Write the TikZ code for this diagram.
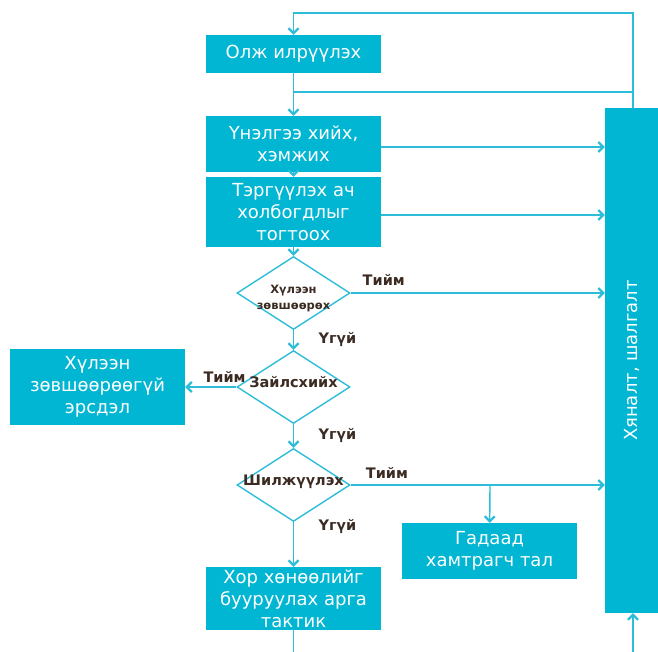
\documentclass[tikz,border=0pt]{standalone}
\usepackage{fontspec}
\setmainfont{DejaVu Sans}
\usetikzlibrary{arrows.meta}
\usetikzlibrary{shapes.geometric}

\definecolor{boxcyan}{HTML}{00B6D3}
\definecolor{linecyan}{HTML}{2EBDD8}
\definecolor{labbrown}{HTML}{3B2B22}

% zero sized text, so the diamonds keep their own size
\newcommand{\zerobox}[1]{\makebox[0pt]{\smash{#1}}}

\tikzset{
  stepbox/.style={rectangle, fill=boxcyan, text=white, minimum width=175pt,
    inner sep=0pt, align=center, font=\fontsize{18}{22}\selectfont},
  choice/.style={diamond, draw=linecyan, line width=1.4pt, minimum width=113pt,
    minimum height=73pt, inner sep=0pt, text=labbrown},
  answer/.style={text=labbrown, font=\fontsize{14.5}{16}\selectfont\bfseries},
  flow/.style={draw=linecyan, line width=1.4pt},
}

\begin{document}
\begin{tikzpicture}[x=1pt,y=-1pt,>={Straight Barb[length=5pt,width=10pt,line width=2.2pt]}]
      \useasboundingbox (0,0) rectangle (658,652);

      \node[stepbox, minimum height=38pt] (detect) at (293.5,54) {Олж илрүүлэх};
      \node[stepbox, minimum height=56pt] (assess) at (293.5,144) {Үнэлгээ хийх,\\хэмжих};
      \node[stepbox, minimum height=70pt] (priority) at (293.5,212) {Тэргүүлэх ач\\холбогдлыг\\тогтоох};
      \node[choice] (accept) at (293.5,293)
        {\zerobox{\fontsize{11.5}{16}\selectfont\bfseries\begin{tabular}[t]{@{}c@{}}Хүлээн\\зөвшөөрөх\end{tabular}}};
      \node[choice] (avoid) at (293.5,387)
        {\zerobox{\fontsize{14.5}{16}\selectfont\bfseries Зайлсхийх}};
      \node[choice] (transfer) at (293.5,485)
        {\zerobox{\fontsize{14.5}{16}\selectfont\bfseries Шилжүүлэх}};
      \node[stepbox, minimum height=76pt] (unaccepted) at (97.5,387) {Хүлээн\\зөвшөөрөөгүй\\эрсдэл};
      \node[stepbox, minimum height=56pt] (partner) at (489.5,551) {Гадаад\\хамтрагч тал};
      \node[stepbox, minimum height=63pt] (tactic) at (293.5,598.5) {Хор хөнөөлийг\\бууруулах арга\\тактик};
      \node[fill=boxcyan, minimum width=53pt, minimum height=505pt, inner sep=0pt] (monitor) at (631.5,360.5) {};
      \node[rotate=90, text=white, font=\fontsize{18}{22}\selectfont] (montext) at (monitor.center) {Хяналт, шалгалт};

      \coordinate (loop) at (633,13);
      \coordinate (rejoin) at (293.5,92);
      \coordinate (branch) at (490,485);
      \coordinate (tacticout) at (293.5,652);
      \coordinate (monin) at (633,652);

      \path[flow,->] (loop |- monitor.north) -- (loop) -| (detect.north);
      \path[flow] (detect) -- (rejoin);
      \path[flow,->] (rejoin -| loop) -- (rejoin) -- (assess);
      \path[flow,->] (assess) -- (priority);
      \path[flow,->] ([yshift=-3pt]assess.east) -- ([yshift=-3pt]assess.east -| monitor.west);
      \path[flow,->] ([yshift=-3pt]priority.east) -- ([yshift=-3pt]priority.east -| monitor.west);
      \path[flow,->] (priority) -- (accept);
      \path[flow,->] (accept.east) -- node[answer, pos=0.13, above=3pt] {Тийм} (accept.east -| monitor.west);
      \path[flow,->] (accept) -- node[answer, right=21pt] {Үгүй} (avoid);
      \path[flow,->] (avoid.west) -- node[answer, pos=0.23, above=0pt] {Тийм} (unaccepted.east);
      \path[flow,->] (avoid) -- node[answer, right=21pt] {Үгүй} (transfer);
      \path[flow] (transfer.east) -- node[answer, pos=0.26, above=2pt] {Тийм} (branch);
      \path[flow,->] (branch) -- (branch -| monitor.west);
      \path[flow,->] (branch) -- (partner);
      \path[flow,->] (transfer) -- node[answer, pos=0.1, right=21pt] {Үгүй} (tactic);
      \path[flow] (tactic) -- (tacticout);
      \path[flow,->] (monin) -- (monin |- monitor.south);
    \end{tikzpicture}
\end{document}
